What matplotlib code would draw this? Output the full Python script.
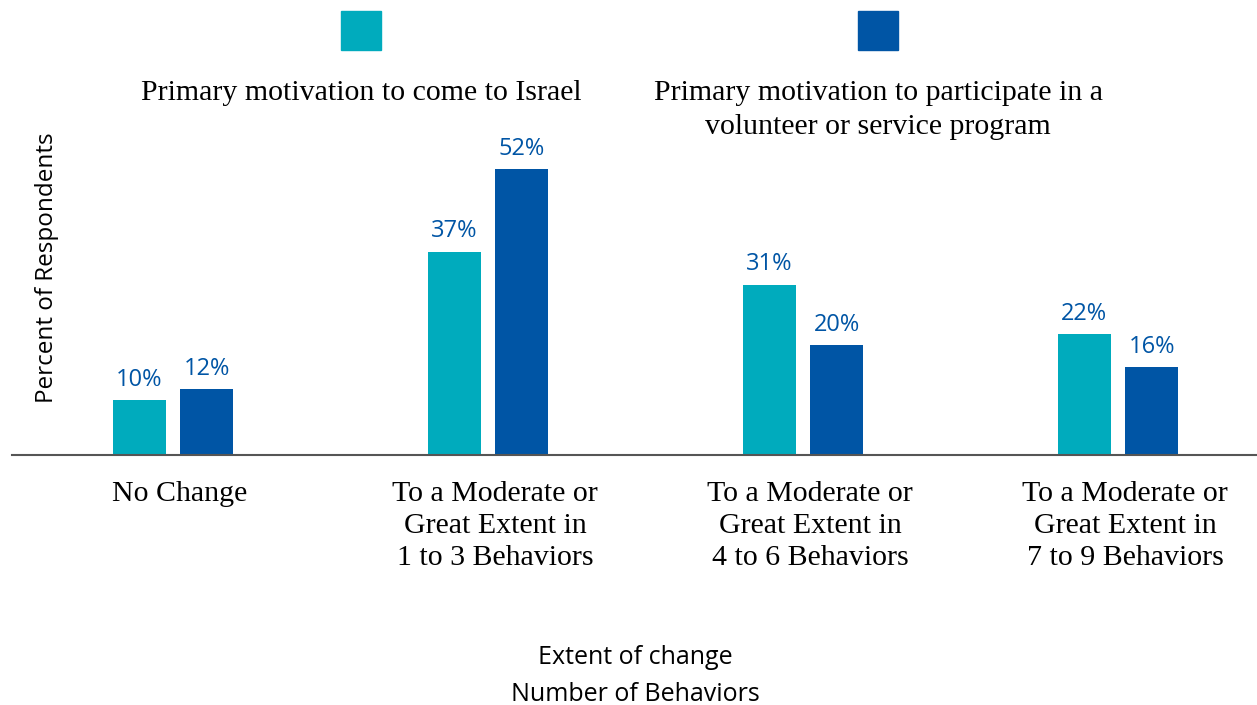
import numpy as np
import matplotlib
matplotlib.use("Agg")
import matplotlib.pyplot as plt
from matplotlib.patches import Rectangle
from matplotlib.transforms import ScaledTranslation

# Data
categories = [
    "No Change",
    "To a Moderate or\nGreat Extent in\n1 to 3 Behaviors",
    "To a Moderate or\nGreat Extent in\n4 to 6 Behaviors",
    "To a Moderate or\nGreat Extent in\n7 to 9 Behaviors",
]
series_names = [
    "Primary motivation to come to Israel",
    "Primary motivation to participate in a\nvolunteer or service program",
]
israel = [10, 37, 31, 22]
volunteer = [12, 52, 20, 16]

CYAN = "#00abbd"
BLUE = "#0055a5"
SERIF = ["Liberation Serif", "DejaVu Serif"]
SANS = ["Open Sans", "DejaVu Sans"]

fig = plt.figure(figsize=(12.57, 7.05), dpi=100)
ax = fig.add_axes([12 / 1257, 1 - 455 / 705, 1 - 12 / 1257, 330 / 705])

x = np.arange(len(categories))
w = 0.168
off = 0.107
b1 = ax.bar(x - off, israel, w, color=CYAN)
b2 = ax.bar(x + off, volunteer, w, color=BLUE)

for bars, vals in ((b1, israel), (b2, volunteer)):
    for b, v in zip(bars, vals):
        ax.annotate(f"{v}%", (b.get_x() + b.get_width() / 2, v),
                    xytext=(0, 6), textcoords="offset points",
                    ha="center", va="bottom", fontsize=17, color=BLUE,
                    family=SANS)

ax.set_xlim(-0.511, 3.441)
ax.set_ylim(0, 60)
for s in ("top", "right", "left"):
    ax.spines[s].set_visible(False)
ax.spines["bottom"].set_color("#555555")
ax.spines["bottom"].set_linewidth(1.5)
ax.set_yticks([])
ax.set_xticks(x)
ax.set_xticklabels(categories, family=SERIF, fontsize=21.5, linespacing=1.3)
ax.tick_params(axis="x", length=0, pad=19)
# category labels sit a little right of their bar pairs
shift = ScaledTranslation(0.07, 0, fig.dpi_scale_trans)
for lbl in ax.get_xticklabels():
    lbl.set_transform(lbl.get_transform() + shift)

# Legend drawn as swatches with captions beneath
for cx, color, label in ((361, CYAN, series_names[0]), (878, BLUE, series_names[1])):
    fig.patches.append(Rectangle(((cx - 20) / 1257, 1 - 50 / 705), 40 / 1257, 39 / 705,
                                 transform=fig.transFigure, color=color))
    fig.text(cx / 1257, 1 - 80 / 705, label, ha="center", va="top",
             family=SERIF, fontsize=21.5, linespacing=1.42)

fig.text(47 / 1257, 1 - 268 / 705, "Percent of Respondents", rotation=90,
         ha="center", va="center", family=SANS, fontsize=17.5)
fig.text(635 / 1257, 1 - 676 / 705, "Extent of change\nNumber of Behaviors",
         ha="center", va="center", family=SANS, fontsize=18, linespacing=1.65)

fig.savefig("out.png", dpi=100)
